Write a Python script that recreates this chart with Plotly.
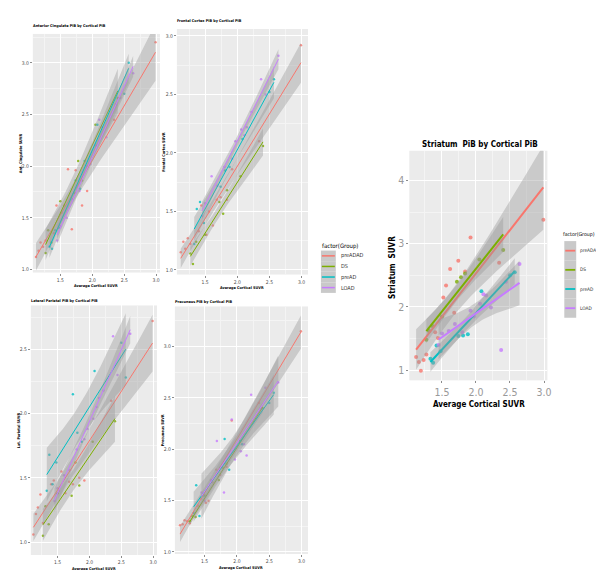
import numpy as np
import plotly.graph_objects as go

W, H = 604, 570
FONT = "Liberation Sans Narrow, DejaVu Sans Condensed, Liberation Sans, Arial"

groups = ["preADAD", "DS", "preAD", "LOAD"]
colors = {"preADAD": "#F8766D", "DS": "#7CAE00", "preAD": "#00BFC4", "LOAD": "#C77CFF"}

# average cortical SUVR per subject (x in every panel)
cortical = {
    "preADAD": [1.12, 1.16, 1.19, 1.23, 1.27, 1.40, 1.44, 1.52, 1.56, 1.62, 1.68, 1.74, 1.84, 1.92, 2.34, 2.99],
    "DS": [1.27, 1.31, 1.36, 1.50, 1.72, 1.78, 1.84, 2.05, 2.40],
    "preAD": [1.33, 1.37, 1.42, 1.48, 1.74, 1.81, 1.88, 2.08, 2.50, 2.57],
    "LOAD": [1.45, 1.50, 1.60, 1.69, 1.80, 1.92, 1.97, 2.06, 2.11, 2.15, 2.22, 2.37, 2.44, 2.64],
}

ant_cingulate = {
    "preADAD": [1.12, 1.18, 1.26, 1.22, 1.28, 1.35, 1.62, 1.55, 1.62, 1.97, 1.39, 1.96, 1.62, 1.76, 2.45, 3.20],
    "DS": [1.16, 1.38, 1.26, 1.66, 1.74, 2.05, 1.86, 2.40, 2.66],
    "preAD": [1.22, 1.20, 1.38, 1.40, 1.86, 1.78, 2.05, 2.40, 2.70, 3.00],
    "LOAD": [1.28, 1.42, 1.50, 1.68, 1.76, 2.00, 2.02, 2.20, 2.45, 2.38, 2.28, 2.60, 2.66, 2.90],
}

frontal = {
    "preADAD": [1.15, 1.24, 1.18, 1.27, 1.22, 1.33, 1.55, 1.30, 1.50, 1.38, 1.60, 1.62, 1.60, 1.86, 2.10, 2.92],
    "DS": [1.14, 1.05, 1.24, 1.30, 1.58, 1.48, 1.68, 1.80, 2.06],
    "preAD": [1.22, 1.52, 1.58, 1.40, 1.71, 1.85, 1.88, 2.12, 2.52, 2.63],
    "LOAD": [1.46, 1.57, 1.80, 1.72, 1.88, 1.95, 2.10, 2.20, 2.15, 2.22, 2.35, 2.63, 2.50, 2.83],
}

lat_parietal = {
    "preADAD": [1.06, 1.22, 1.27, 1.37, 1.15, 1.45, 1.48, 1.40, 1.55, 1.38, 1.47, 1.45, 1.50, 1.48, 2.10, 2.72],
    "DS": [1.05, 1.28, 1.14, 1.38, 1.36, 1.62, 1.44, 1.78, 1.94],
    "preAD": [1.40, 1.68, 1.45, 1.62, 2.15, 1.85, 1.78, 2.33, 2.55, 2.28],
    "LOAD": [1.32, 1.42, 1.52, 1.56, 1.72, 1.80, 1.88, 1.96, 2.05, 2.12, 2.18, 2.60, 2.30, 2.62],
}

precuneus = {
    "preADAD": [1.26, 1.27, 1.31, 1.30, 1.28, 1.45, 1.52, 1.48, 1.50, 1.68, 1.80, 1.75, 1.83, 2.28, 2.45, 3.15],
    "DS": [1.30, 1.35, 1.34, 1.55, 1.70, 1.82, 1.86, 2.08, 2.40],
    "preAD": [1.38, 1.65, 1.35, 1.55, 1.82, 2.10, 1.80, 2.05, 2.45, 2.55],
    "LOAD": [1.58, 1.50, 1.70, 2.08, 1.58, 2.29, 1.90, 1.98, 2.05, 1.94, 2.53, 2.40, 2.60, 2.65],
}

striatum = {
    "preADAD": [1.21, 1.13, 0.99, 1.16, 1.25, 1.60, 1.51, 2.15, 2.34, 2.60, 1.91, 2.73, 2.56, 3.10, 2.70, 3.38],
    "DS": [1.48, 1.62, 1.70, 1.85, 2.40, 2.47, 2.53, 2.75, 2.90],
    "preAD": [1.18, 1.12, 1.39, 1.30, 1.54, 1.55, 1.57, 2.25, 2.50, 2.55],
    "LOAD": [1.40, 1.58, 1.62, 1.73, 1.60, 1.94, 1.85, 2.05, 2.20, 2.18, 1.99, 1.32, 2.40, 2.68],
}

# two-sided 95% t quantiles by degrees of freedom
T975 = {5: 2.571, 6: 2.447, 7: 2.365, 8: 2.306, 9: 2.262, 10: 2.228, 11: 2.201,
        12: 2.179, 13: 2.160, 14: 2.145, 15: 2.131, 16: 2.120, 17: 2.110, 18: 2.101}


def lm_band(x, y, npts=60):
    # same as geom_smooth(method="lm"): fit and 95% confidence band
    x = np.asarray(x, float)
    y = np.asarray(y, float)
    n = len(x)
    b, a = np.polyfit(x, y, 1)
    s = np.sqrt(((y - (a + b * x)) ** 2).sum() / (n - 2))
    sxx = ((x - x.mean()) ** 2).sum()
    xs = np.linspace(x.min(), x.max(), npts)
    fit = a + b * xs
    se = s * np.sqrt(1 / n + (xs - x.mean()) ** 2 / sxx)
    t = T975[n - 2]
    return xs, fit, fit - t * se, fit + t * se


def px(x):
    return x / W


def py(y):
    return 1 - y / H


panels = [
    dict(data=ant_cingulate, title="Anterior Cingulate PiB by Cortical PiB", ytitle="Ant. Cingulate SUVR",
         box=(25, 153, 26, 265), xrange=[1.07, 3.06], yrange=[0.97, 3.28], big=False),
    dict(data=frontal, title="Frontal Cortex PiB by Cortical PiB", ytitle="Frontal Cortex SUVR",
         box=(170, 302, 21, 267), xrange=[1.06, 3.10], yrange=[0.96, 3.06], big=False),
    dict(data=lat_parietal, title="Lateral Parietal PiB by Cortical PiB", ytitle="Lat. Parietal SUVR",
         box=(23, 150, 298, 548), xrange=[1.08, 3.06], yrange=[0.90, 2.84], big=False),
    dict(data=precuneus, title="Precuneus PiB by Cortical PiB", ytitle="Precuneus SUVR",
         box=(168, 302, 299, 547), xrange=[1.04, 3.10], yrange=[0.98, 3.39], big=False),
    dict(data=striatum, title="Striatum  PiB by Cortical PiB", ytitle="Striatum  SUVR",
         box=(404, 543, 143, 373), xrange=[1.02, 3.05], yrange=[0.84, 4.47], big=True),
]

fig = go.Figure()
annotations = []
shapes = []
layout_axes = {}

for i, p in enumerate(panels, start=1):
    xa = "x" if i == 1 else f"x{i}"
    ya = "y" if i == 1 else f"y{i}"
    big = p["big"]
    x0, x1, y0, y1 = p["box"]

    # points first, then smoothers on top
    for g in groups:
        fig.add_trace(go.Scatter(
            x=cortical[g], y=p["data"][g], mode="markers", xaxis=xa, yaxis=ya,
            marker=dict(color=colors[g], size=4 if big else 2.5, opacity=0.8),
            showlegend=False, hoverinfo="skip"))
    for g in groups:
        xs, fit, lo, hi = lm_band(cortical[g], p["data"][g])
        fig.add_trace(go.Scatter(
            x=np.concatenate([xs, xs[::-1]]), y=np.concatenate([hi, lo[::-1]]),
            fill="toself", fillcolor="rgba(153,153,153,0.4)", line=dict(width=0),
            mode="lines", xaxis=xa, yaxis=ya, showlegend=False, hoverinfo="skip"))
        fig.add_trace(go.Scatter(
            x=xs, y=fit, mode="lines", xaxis=xa, yaxis=ya,
            line=dict(color=colors[g], width=2 if big else 1),
            showlegend=False, hoverinfo="skip"))

    tick_font = dict(family=FONT, size=10.5 if big else 5, color="#999999" if big else "#4d4d4d")
    common = dict(showgrid=True, gridcolor="white", gridwidth=1 if big else 0.7,
                  zeroline=False, showline=False, ticks="outside",
                  ticklen=2, tickcolor="#8c8c8c", tickwidth=1 if big else 0.6,
                  tickfont=tick_font)
    layout_axes["xaxis" if i == 1 else f"xaxis{i}"] = dict(
        domain=[px(x0), px(x1)], range=p["xrange"], anchor=ya,
        tick0=1.0, dtick=0.5, tickformat=".1f",
        minor=dict(dtick=0.25, showgrid=True, gridcolor="#F4F4F4", gridwidth=0.5), **common)
    layout_axes["yaxis" if i == 1 else f"yaxis{i}"] = dict(
        domain=[py(y1), py(y0)], range=p["yrange"], anchor=xa,
        tick0=1.0, dtick=1 if big else 0.5, tickformat="d" if big else ".1f",
        minor=dict(dtick=0.5 if big else 0.25, showgrid=True, gridcolor="#F4F4F4", gridwidth=0.5),
        **common)

    if big:
        annotations.append(dict(text="<b>" + p["title"] + "</b>", x=px((x0 + x1) / 2 + 2), y=py(137),
                                xref="paper", yref="paper", showarrow=False, xanchor="center",
                                yanchor="middle", font=dict(family=FONT, size=8, color="black")))
        annotations.append(dict(text="<b>Average Cortical SUVR</b>", x=px(474), y=py(397),
                                xref="paper", yref="paper", showarrow=False, xanchor="center",
                                yanchor="middle", font=dict(family=FONT, size=8, color="black")))
        annotations.append(dict(text="<b>" + p["ytitle"] + "</b>", x=px(387), y=py(260),
                                xref="paper", yref="paper", showarrow=False, textangle=-90,
                                xanchor="center", yanchor="middle",
                                font=dict(family=FONT, size=8, color="black")))
    else:
        annotations.append(dict(text="<b>" + p["title"] + "</b>", x=px(x0 - 2), y=py(y0 - 8 if i <= 2 else y0 - 5),
                                xref="paper", yref="paper", showarrow=False, xanchor="left",
                                yanchor="middle", font=dict(family=FONT, size=3.8, color="black")))
        annotations.append(dict(text="<b>Average Cortical SUVR</b>", x=px((x0 + x1) / 2), y=py(y1 + 13),
                                xref="paper", yref="paper", showarrow=False, xanchor="center",
                                yanchor="middle", font=dict(family=FONT, size=3.8, color="black")))
        annotations.append(dict(text="<b>" + p["ytitle"] + "</b>", x=px(x0 - 13), y=py((y0 + y1) / 2),
                                xref="paper", yref="paper", showarrow=False, textangle=-90,
                                xanchor="center", yanchor="middle",
                                font=dict(family=FONT, size=3.8, color="black")))


def add_legend(title_xy, key_x, row_top, row_h, label_x, title_size, label_size, line_w):
    annotations.append(dict(text="factor(Group)", x=px(title_xy[0]), y=py(title_xy[1]),
                            xref="paper", yref="paper", showarrow=False, xanchor="left",
                            yanchor="middle", font=dict(family=FONT, size=title_size, color="black")))
    for k, g in enumerate(groups):
        top = row_top + k * row_h
        shapes.append(dict(type="rect", xref="paper", yref="paper",
                           x0=px(key_x[0]), x1=px(key_x[1]), y0=py(top + row_h), y1=py(top),
                           fillcolor="#C9C9C9", line=dict(width=0)))
        cy = top + row_h / 2
        shapes.append(dict(type="line", xref="paper", yref="paper",
                           x0=px(key_x[0] + 1), x1=px(key_x[1] - 1), y0=py(cy), y1=py(cy),
                           line=dict(color=colors[g], width=line_w)))
        annotations.append(dict(text=g, x=px(label_x), y=py(cy), xref="paper", yref="paper",
                                showarrow=False, xanchor="left", yanchor="middle",
                                font=dict(family=FONT, size=label_size, color="#333333")))


add_legend((314, 238), (315, 330), 243, 10.6, 333, 6, 5.5, 1.5)
add_legend((557, 227), (560, 572), 233.5, 19.2, 573.5, 5.2, 4.8, 1.8)

fig.update_layout(
    width=W, height=H, margin=dict(l=0, r=0, t=0, b=0),
    paper_bgcolor="white", plot_bgcolor="#EBEBEB",
    showlegend=False, annotations=annotations, shapes=shapes,
    font=dict(family=FONT), **layout_axes)

fig.write_html("out.html")
